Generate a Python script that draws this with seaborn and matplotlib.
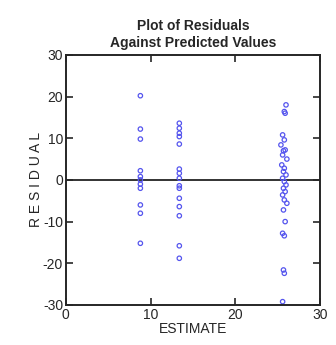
import matplotlib
matplotlib.use("Agg")
import matplotlib.pyplot as plt
import seaborn as sns
import pandas as pd

# predicted values (three groups) and residuals
est_a = [8.8] * 11
res_a = [20.2, 12.2, 9.8, 2.2, 0.8, 0.0, -1.0, -2.0, -6.0, -8.0, -15.2]
est_b = [13.4] * 15
res_b = [13.6, 12.4, 11.2, 10.4, 8.6, 2.6, 1.6, -1.4, -2.0, -4.4, -6.4, -8.6, -15.8, -18.8, 0.4]
est_c = [26.0, 25.8, 25.9, 25.6, 25.8, 25.4, 25.9, 25.6, 26.1, 25.5, 25.7, 26.0,
         25.6, 25.8, 26.0, 25.7, 25.9, 25.6, 25.8, 26.1, 25.7, 25.9, 25.6, 25.8,
         25.7, 25.8, 25.6, 25.7, 25.8]
res_c = [18.0, 16.4, 16.0, 10.8, 9.6, 8.4, 7.2, 6.0, 5.0, 3.6, 2.0, 1.2,
         0.4, -0.4, -1.2, -2.0, -2.8, -3.6, -4.8, -5.6, -7.2, -10.0, -12.8, -13.4,
         -21.6, -22.4, -29.2, 7.0, 2.8]

df = pd.DataFrame({
    "estimate": est_a + est_b + est_c,
    "residual": res_a + res_b + res_c,
})

sns.set_style("ticks")
plt.rcParams["font.family"] = ["Liberation Sans Narrow", "Liberation Sans", "DejaVu Sans"]
plt.rcParams["axes.unicode_minus"] = False

fig = plt.figure(figsize=(3.36, 3.45), dpi=100)
ax = fig.add_axes([0.196, 0.116, 0.756, 0.725])

sns.scatterplot(data=df, x="estimate", y="residual", ax=ax, marker="o",
                s=10, facecolor="none", edgecolor="#5555ee", linewidth=0.9)
ax.axhline(0, color="#333333", lw=1.4, zorder=0)

ax.set_xlim(0, 30)
ax.set_ylim(-30, 30)
ax.set_xticks([0, 10, 20, 30])
ax.set_yticks([-30, -20, -10, 0, 10, 20, 30])
ax.tick_params(direction="in", top=True, right=True, length=5, width=1.2,
               labelsize=10, pad=2)
for sp in ax.spines.values():
    sp.set_linewidth(1.4)

ax.set_xlabel("ESTIMATE", fontsize=10, labelpad=0)
ax.set_ylabel("R E S I D U A L", fontsize=10, labelpad=0)
ax.set_title("Plot of Residuals\nAgainst Predicted Values", fontsize=10,
             fontweight="heavy", pad=6, linespacing=1.2)

fig.savefig("out.png", dpi=100)
